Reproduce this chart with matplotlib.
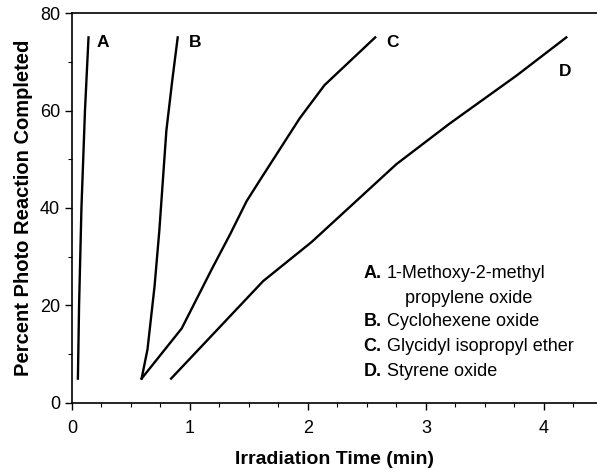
import numpy as np
import matplotlib.pyplot as plt
from matplotlib.ticker import MultipleLocator

plt.rcParams['font.family'] = ['Liberation Sans', 'DejaVu Sans']

# curves (time in min, percent completed)
a_time = [0.05, 0.06, 0.08, 0.11, 0.14]
a_pct = [5, 20, 40, 60, 75]
b_time = [0.59, 0.64, 0.70, 0.74, 0.80, 0.85, 0.896]
b_pct = [5, 11, 24, 35.3, 55.9, 66.2, 75]
c_time = [0.59, 0.93, 1.19, 1.34, 1.48, 1.59, 1.93, 2.14, 2.57]
c_pct = [5, 15.3, 27.7, 34.6, 41.4, 45.6, 58.4, 65.2, 75]
d_time = [0.84, 1.62, 2.03, 2.75, 3.20, 3.77, 4.19]
d_pct = [5, 25, 33, 49, 57.3, 67.2, 75]

letters = ['A', 'B', 'C', 'D']
letter_x = [0.26, 1.04, 2.72, 4.18]
letter_y = [74, 74, 74, 68]

legend_keys = ['A.', '', 'B.', 'C.', 'D.']
legend_text = ['1-Methoxy-2-methyl', 'propylene oxide', 'Cyclohexene oxide',
               'Glycidyl isopropyl ether', 'Styrene oxide']
legend_y = [26.6, 21.4, 16.7, 11.5, 6.4]

fig = plt.figure(figsize=(5.97, 4.70), dpi=100)
ax = fig.add_axes([0.1206, 0.1426, 0.8794, 0.8297])

for t, p in [(a_time, a_pct), (b_time, b_pct), (c_time, c_pct), (d_time, d_pct)]:
    ax.plot(t, p, color='black', lw=1.7)

for s, x, y in zip(letters, letter_x, letter_y):
    ax.text(x, y, s, fontsize=12.5, fontweight='bold', ha='center', va='center')

for k, txt, y in zip(legend_keys, legend_text, legend_y):
    if k:
        ax.text(2.47, y, k, fontsize=13, fontweight='bold', va='center')
        ax.text(2.67, y, txt, fontsize=13, va='center')
    else:
        ax.text(2.82, y, txt, fontsize=13, va='center')

ax.set_xlim(0, 4.45)
ax.set_ylim(0, 80)
ax.xaxis.set_major_locator(MultipleLocator(1))
ax.xaxis.set_minor_locator(MultipleLocator(0.25))
ax.yaxis.set_major_locator(MultipleLocator(20))
ax.yaxis.set_minor_locator(MultipleLocator(10))
ax.tick_params(which='major', length=5, width=1, labelsize=13, direction='out')
ax.tick_params(axis='x', which='major', pad=7)
ax.tick_params(which='minor', length=3, width=0.8, direction='out')
ax.spines['right'].set_visible(False)
for s in ['left', 'bottom', 'top']:
    ax.spines[s].set_linewidth(1.2)

ax.set_xlabel('Irradiation Time (min)', fontsize=14, fontweight='bold', labelpad=10)
ax.set_ylabel('Percent Photo Reaction Completed', fontsize=14.5, fontweight='bold', labelpad=5)

fig.savefig('out.png', dpi=100)
